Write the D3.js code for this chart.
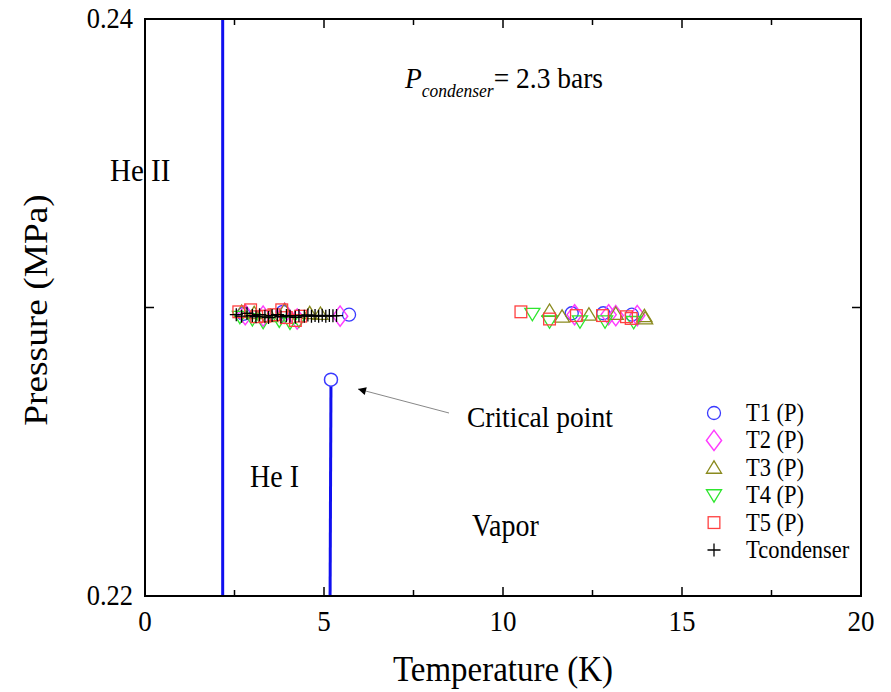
<!DOCTYPE html>
<html>
<head>
<meta charset="utf-8">
<script src="https://cdn.jsdelivr.net/npm/d3@7"></script>
<style>
  body { margin: 0; background: #fff; }
  text { font-family: "Liberation Serif", "Times New Roman", serif; fill: #000; }
</style>
</head>
<body>
<svg id="chart"></svg>
<script>
// ---- data ----
let xTicks = [0, 5, 10, 15, 20]
let yTicks = [0.22, 0.23, 0.24]
let yLabels = [0.22, 0.24]

// saturation line from the critical point downward, and the lambda line
let lambdaLine = [[2.17, 0.22], [2.17, 0.24]]
let vaporLine = [[5.17, 0.22], [5.195, 0.2275]]
let criticalPoint = [5.195, 0.2275]

let t1 = [[2.75, 0.22978], [3.85, 0.22985], [5.7, 0.22975], [11.92, 0.2298], [12.8, 0.2298], [13.6, 0.22975]]
let t2 = [[2.8, 0.22975], [3.3, 0.2297], [3.9, 0.2298], [4.25, 0.2296], [5.45, 0.2297],
          [12.0, 0.22975], [12.95, 0.22975], [13.15, 0.22972], [13.75, 0.22972]]
let t3 = [[2.7, 0.22985], [3.05, 0.2298], [3.5, 0.2297], [3.9, 0.2299], [4.6, 0.2298], [4.9, 0.22978],
          [11.3, 0.22988], [11.65, 0.22968], [12.4, 0.22975], [13.15, 0.22978], [13.95, 0.2297], [13.97, 0.22962]]
let t4 = [[2.65, 0.22968], [3.0, 0.2296], [3.3, 0.2295], [3.75, 0.22955], [4.05, 0.22948], [4.3, 0.22955],
          [10.82, 0.22978], [11.3, 0.22952], [12.15, 0.22952], [12.85, 0.22952], [13.65, 0.2295]]
let t5 = [[2.62, 0.22985], [2.95, 0.22992], [3.12, 0.22968], [3.35, 0.2297], [3.6, 0.22975], [3.82, 0.22992],
          [3.95, 0.22965], [4.2, 0.22955], [4.35, 0.2297],
          [10.5, 0.22985], [11.3, 0.2296], [12.05, 0.22972], [12.78, 0.22972], [13.45, 0.22968], [13.58, 0.22962]]
let tcond = [[2.55, 0.22975], [2.7, 0.2297], [2.85, 0.2298], [3.0, 0.22972], [3.1, 0.22968], [3.2, 0.22975],
             [3.35, 0.2297], [3.45, 0.22965], [3.55, 0.22972], [3.7, 0.22975], [3.8, 0.22968], [3.95, 0.22972],
             [4.05, 0.2297], [4.2, 0.22966], [4.3, 0.22972], [4.45, 0.2297], [4.55, 0.22974], [4.65, 0.2297],
             [4.75, 0.22972], [4.85, 0.2297], [4.95, 0.22973], [5.05, 0.2297], [5.15, 0.22972], [5.25, 0.22971],
             [5.35, 0.22972]]

let seriesNames = ["T1 (P)", "T2 (P)", "T3 (P)", "T4 (P)", "T5 (P)", "Tcondenser"]
let seriesColors = ["#3a3aff", "#ff3cff", "#8a8a1e", "#2ee62e", "#ff4040", "#000"]
let seriesShapes = ["circle", "diamond", "up", "down", "square", "plus"]

// ---- layout ----
let W = 891, H = 692
let plotL = 145, plotR = 861, plotT = 19, plotB = 596
let stretch = 1.1   // glyphs in the original are a bit taller than wide

let svg = d3.select("#chart").attr("width", W).attr("height", H)
svg.append("rect").attr("width", W).attr("height", H).attr("fill", "#fff")

let x = d3.scaleLinear().domain([0, 20]).range([plotL, plotR])
let y = d3.scaleLinear().domain([0.22, 0.24]).range([plotB, plotT])

function label(px, py, str, size, anchor) {
    return svg.append("text")
        .attr("transform", "translate(" + px + "," + py + ") scale(1," + stretch + ")")
        .attr("text-anchor", anchor || "start")
        .style("font-size", size + "px")
        .text(str)
}

// ticks (inward), both sides
let xMinor = d3.range(0, 20.01, 2.5)
let axes = svg.append("g").attr("stroke", "#000").attr("stroke-width", 1.5)
xMinor.forEach(v => {
    let len = (v % 5 === 0) ? 9 : 6
    axes.append("line").attr("x1", x(v)).attr("x2", x(v)).attr("y1", plotB).attr("y2", plotB - len)
    axes.append("line").attr("x1", x(v)).attr("x2", x(v)).attr("y1", plotT).attr("y2", plotT + len)
})
yTicks.forEach(v => {
    axes.append("line").attr("x1", plotL).attr("x2", plotL + 9).attr("y1", y(v)).attr("y2", y(v))
    axes.append("line").attr("x1", plotR).attr("x2", plotR - 9).attr("y1", y(v)).attr("y2", y(v))
})

xTicks.forEach(d => label(x(d), 631, d, 27, "middle"))
yLabels.forEach(d => label(133, y(d) + 9, d3.format(".2f")(d), 26.5, "end"))

label(503, 681, "Temperature (K)", 33, "middle")
svg.append("text").attr("transform", "translate(47,310) rotate(-90) scale(" + stretch + ",1)")
    .attr("text-anchor", "middle").style("font-size", "34px").text("Pressure (MPa)")

// phase lines
let line = d3.line().x(d => x(d[0])).y(d => y(d[1]))
svg.append("path").datum(lambdaLine).attr("d", line).attr("stroke", "#1010f0").attr("stroke-width", 3).attr("fill", "none")
svg.append("path").datum(vaporLine).attr("d", line).attr("stroke", "#1010f0").attr("stroke-width", 3).attr("fill", "none")

// markers
function marker(g, shape, color, size) {
    let s = size
    if (shape === "circle") {
        g.append("circle").attr("r", s * 0.5).attr("fill", "none").attr("stroke", color).attr("stroke-width", 1.3)
    } else if (shape === "square") {
        g.append("rect").attr("x", -s * 0.45).attr("y", -s * 0.45).attr("width", s * 0.9).attr("height", s * 0.9)
            .attr("fill", "none").attr("stroke", color).attr("stroke-width", 1.3)
    } else if (shape === "diamond") {
        g.append("path").attr("d", d3.symbol(d3.symbolDiamond, s * s * 0.7)())
            .attr("transform", "scale(1.3,1)")
            .attr("fill", "none").attr("stroke", color).attr("stroke-width", 1.2)
    } else if (shape === "up" || shape === "down") {
        let h = s * 0.58
        let p = shape === "up"
            ? [[-h, h * 0.72], [h, h * 0.72], [0, -h * 0.92]]
            : [[-h, -h * 0.72], [h, -h * 0.72], [0, h * 0.92]]
        g.append("path").attr("d", "M" + p.join("L") + "Z")
            .attr("fill", "none").attr("stroke", color).attr("stroke-width", 1.3)
    } else {
        g.append("path").attr("d", "M" + (-s / 2) + ",0H" + (s / 2) + "M0," + (-s / 2) + "V" + (s / 2))
            .attr("stroke", color).attr("stroke-width", 1.3)
    }
}

let allSeries = [t1, t2, t3, t4, t5, tcond]
allSeries.forEach((data, i) => {
    let grp = svg.append("g")
    grp.selectAll("g").data(data).enter().append("g")
        .attr("transform", d => "translate(" + x(d[0]) + "," + y(d[1]) + ")")
        .each(function () { marker(d3.select(this), seriesShapes[i], seriesColors[i], 13) })
})

// critical point
svg.append("circle").attr("cx", x(criticalPoint[0])).attr("cy", y(criticalPoint[1]))
    .attr("r", 6.5).attr("fill", "#fff").attr("stroke", "#3a3aff").attr("stroke-width", 1.5)

// annotations
svg.append("defs").append("marker").attr("id", "ah").attr("viewBox", "0 0 10 10")
    .attr("refX", 10).attr("refY", 5).attr("markerWidth", 13).attr("markerHeight", 8)
    .attr("markerUnits", "userSpaceOnUse").attr("orient", "auto")
    .append("path").attr("d", "M0,0L10,5L0,10Z").attr("fill", "#000")
svg.append("line").attr("x1", 449).attr("y1", 413).attr("x2", 358).attr("y2", 389)
    .attr("stroke", "#888").attr("stroke-width", 1).attr("marker-end", "url(#ah)")

label(467, 427, "Critical point", 27.5)
label(110, 181, "He II", 29)
label(250, 487, "He I", 28)
label(472, 536, "Vapor", 28)

let pc = label(405, 88, "", 27.5)
pc.append("tspan").style("font-style", "italic").text("P")
pc.append("tspan").attr("dy", 8).style("font-style", "italic").style("font-size", "17.5px").text("condenser")
pc.append("tspan").attr("dy", -8).text("= 2.3 bars")

// legend
seriesNames.forEach((name, i) => {
    let yy = 413 + i * 27.4
    let g = svg.append("g").attr("transform", "translate(714," + yy + ")")
    marker(g, seriesShapes[i], seriesColors[i], 13)
    label(746, yy + 8, name, 22.5)
})

// frame
svg.append("rect").attr("x", plotL).attr("y", plotT).attr("width", plotR - plotL).attr("height", plotB - plotT)
    .attr("fill", "none").attr("stroke", "#000").attr("stroke-width", 2)
</script>
</body>
</html>
